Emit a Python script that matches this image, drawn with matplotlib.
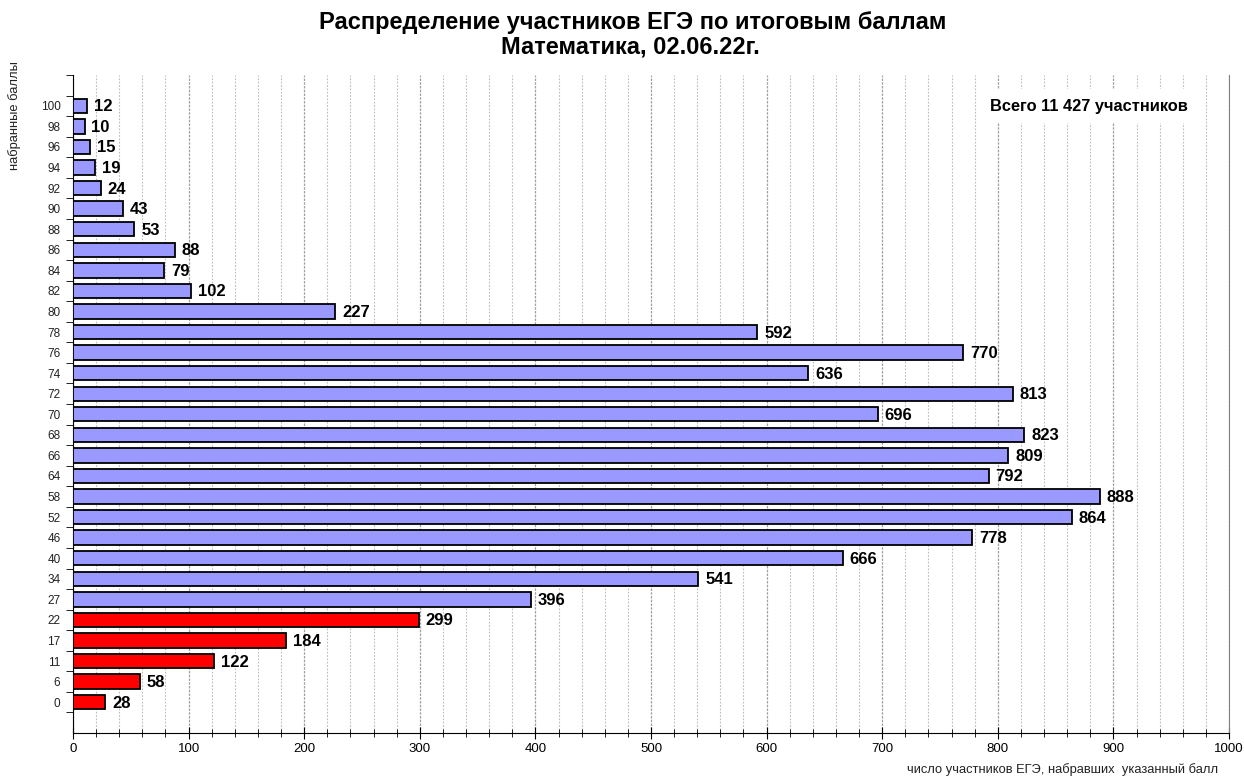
import matplotlib
matplotlib.use("Agg")
import matplotlib.pyplot as plt
from matplotlib.ticker import MultipleLocator, FixedLocator

plt.rcParams['font.family'] = ['Liberation Sans', 'DejaVu Sans']

scores = ['0', '6', '11', '17', '22', '27', '34', '40', '46', '52', '58', '64', '66', '68', '70',
          '72', '74', '76', '78', '80', '82', '84', '86', '88', '90', '92', '94', '96', '98', '100']
counts = [28, 58, 122, 184, 299, 396, 541, 666, 778, 864, 888, 792, 809, 823, 696,
          813, 636, 770, 592, 227, 102, 79, 88, 53, 43, 24, 19, 15, 10, 12]
n_fail = 5  # first five categories are below threshold (red)

title_line1 = "Распределение участников ЕГЭ по итоговым баллам"
title_line2 = "Математика, 02.06.22г."
xlabel = "число участников ЕГЭ, набравших  указанный балл"
ylabel = "набранные баллы"
total_text = "Всего 11 427 участников"

fig = plt.figure(figsize=(12.44, 7.76), dpi=100)
ax = fig.add_axes([73/1244, 1 - 733/776, (1229-73)/1244, (733-75)/776])

ypos = list(range(len(scores)))
colors = ['#FF0000' if i < n_fail else '#9999FF' for i in ypos]
ax.barh(ypos, counts, height=0.7, color=colors, edgecolor='black', linewidth=1.3, zorder=3)

for y, v in zip(ypos, counts):
    ax.text(v + 6, y - 0.05, str(v), va='center', ha='left', fontsize=12, fontweight='bold', zorder=4)

ax.set_xlim(0, 1000)
ax.set_ylim(-1.5, len(scores) + 0.5)
ax.set_yticks(ypos)
ax.set_yticklabels(scores, fontsize=8.5, color='#222222')
ax.tick_params(axis='y', length=0, pad=9)
ax.yaxis.set_minor_locator(FixedLocator([i - 0.5 for i in range(len(scores) + 2)]))
ax.tick_params(axis='y', which='minor', length=5, direction='out')

ax.xaxis.set_major_locator(MultipleLocator(100))
ax.xaxis.set_minor_locator(MultipleLocator(20))
ax.tick_params(axis='x', which='major', length=8, direction='inout', labelsize=9.5, pad=3)
ax.tick_params(axis='x', which='minor', length=6, direction='inout')
ax.grid(axis='x', which='minor', color='#bcbcbc', linestyle=(0, (1.5, 1.5)), linewidth=0.8, zorder=0)
ax.grid(axis='x', which='major', color='#a0a0a0', linestyle=(0, (2, 1)), linewidth=0.9, zorder=0)

ax.spines['top'].set_visible(False)
ax.spines['right'].set_color('#808080')
ax.spines['left'].set_color('black')
ax.spines['bottom'].set_color('black')

fig.text(633/1244, 1 - 23/776, title_line1, ha='center', va='center', fontsize=17, fontweight='bold')
fig.text(630/1244, 1 - 47/776, title_line2, ha='center', va='center', fontsize=17, fontweight='bold')
fig.text(1063/1244, 1 - 770/776, xlabel, ha='center', va='center', fontsize=9.3, color='#222222')
fig.text(15/1244, 1 - 116/776, ylabel, ha='center', va='center', rotation=90, fontsize=9.3, color='#222222')
fig.text(1089/1244, 1 - 106/776, total_text, ha='center', va='center', fontsize=11.8, fontweight='bold',
         bbox=dict(facecolor='white', edgecolor='none', pad=7), zorder=5)

fig.savefig('out.png', dpi=100)
